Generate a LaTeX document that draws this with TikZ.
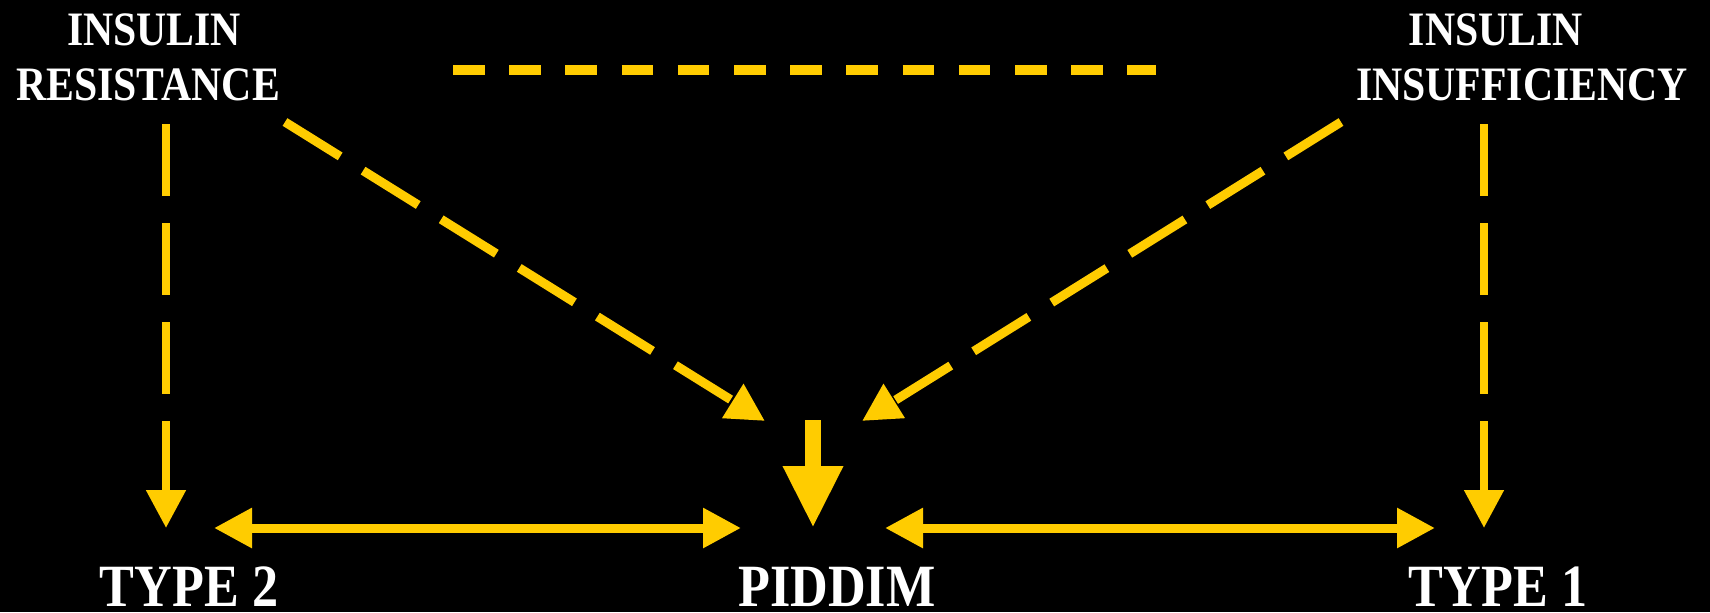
\documentclass[tikz,border=0pt]{standalone}
\usepackage{fontspec}
\setmainfont{Liberation Serif}
\usepackage{graphicx}
\usetikzlibrary{arrows.meta}
\definecolor{gold}{RGB}{255,204,0}
% slightly condensed bold caps
\newcommand\squeezetext[1]{\scalebox{0.87}[1]{#1}}

\begin{document}
\begin{tikzpicture}[x=0.5pt,y=-0.5pt,
  >={Triangle[length=19pt,width=19pt]},
  cause/.style={text=white, inner sep=0pt, anchor=base,
    font=\bfseries\fontsize{24}{27.5}\selectfont},
  outcome/.style={text=white, inner sep=0pt, anchor=base,
    font=\bfseries\fontsize{30}{36}\selectfont},
  vlink/.style={draw=gold, line width=4pt, dash pattern=on 36pt off 13.5pt, ->},
  dlink/.style={draw=gold, line width=4.5pt, dash pattern=on 32.5pt off 13.5pt, ->},
  toplink/.style={draw=gold, line width=5pt, dash pattern=on 15.8pt off 12.3pt},
  hlink/.style={draw=gold, line width=4.5pt, <->},
  mainlink/.style={draw=gold, line width=8pt, -{Triangle[length=31pt,width=28pt]}}
]
\path[use as bounding box, fill=black] (0,0) rectangle (1710,612);

% labels
\node[cause] (ir) at (148,45)
  {\squeezetext{\begin{tabular}[t]{@{}c@{}}\hspace*{7pt}INSULIN\\RESISTANCE\end{tabular}}};
\node[cause] (ii) at (1522,45)
  {\squeezetext{\begin{tabular}[t]{@{}c@{}}INSULIN\hspace*{30pt}\\INSUFFICIENCY\end{tabular}}};
\node[outcome] (t2) at (189,606) {\squeezetext{TYPE 2}};
\node[outcome] (pd) at (837,606) {\squeezetext{PIDDIM}};
\node[outcome] (t1) at (1498,606) {\squeezetext{TYPE 1}};

% connector ends
\coordinate (ir-v) at (166,124);
\coordinate (t2-v) at (166,528);
\coordinate (ii-v) at (1484,124);
\coordinate (t1-v) at (1484,528);
\coordinate (ir-d) at (285,122);
\coordinate (pd-dl) at (765,421);
\coordinate (ii-d) at (1341,122);
\coordinate (pd-dr) at (862,421);
\coordinate (ir-t) at (453,70);
\coordinate (ii-t) at (1156,70);
\coordinate (pd-top) at (813,420);
\coordinate (pd-tip) at (813,528);
\coordinate (t2-h) at (214,528);
\coordinate (pd-hl) at (741,528);
\coordinate (pd-hr) at (885,528);
\coordinate (t1-h) at (1435,528);

% connectors
\draw[toplink] (ir-t) -- (ii-t);
\draw[vlink] (ir-v) -- (t2-v);
\draw[vlink] (ii-v) -- (t1-v);
\draw[dlink] (ir-d) -- (pd-dl);
\draw[dlink] (ii-d) -- (pd-dr);
\draw[mainlink] (pd-top) -- (pd-tip);
\draw[hlink] (t2-h) -- (pd-hl);
\draw[hlink] (pd-hr) -- (t1-h);
\end{tikzpicture}
\end{document}
